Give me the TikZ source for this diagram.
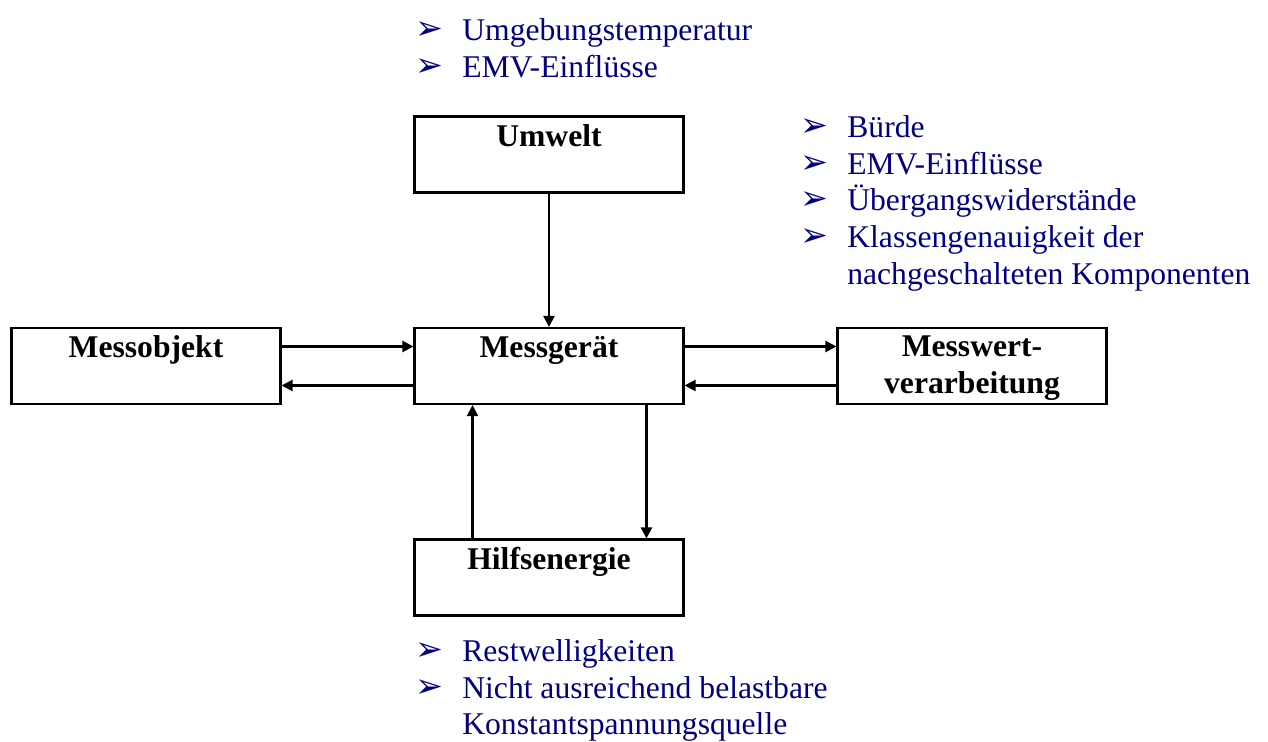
\documentclass[tikz,border=0pt]{standalone}
\usepackage{fontspec}
\setmainfont{Liberation Serif}
\newfontfamily\dingfont{DejaVu Sans}
\usepackage{xcolor}
\usetikzlibrary{positioning,arrows.meta}

\definecolor{listblue}{RGB}{0,0,128}
\newcommand{\arrbullet}{\makebox[0.94cm][l]{\smash{\raisebox{0.5pt}{\dingfont\bfseries\fontsize{19}{19}\selectfont ➢}}}}
\newcommand{\arrindent}{\makebox[0.94cm][l]{}}

\tikzset{
  block/.style={draw, line width=1.2pt, minimum width=5.38cm, minimum height=1.52cm, inner sep=0pt},
  blocktitle/.style={font=\fontsize{18}{21}\selectfont\bfseries, inner sep=0pt, anchor=base},
  flow/.style={line width=1.2pt, -{Triangle[length=0.22cm, width=0.22cm]}},
  notes/.style={text=listblue, font=\fontsize{18}{20.9}\selectfont, align=left, inner sep=0pt, anchor=north west}
}

\begin{document}
\begin{tikzpicture}[x=0.02cm, y=-0.02cm]
  \useasboundingbox (0,0) rectangle (1268,742);

  % Blocks
  \node[block] (umwelt) at (549,154.5) {};
  \node[block] (objekt) at (146,366) {};
  \node[block] (geraet) at (549,366) {};
  \node[block] (verarb) at (972,366) {};
  \node[block] (hilfs) at (549,577.5) {};

  % Block titles
  \node[blocktitle] (umwelt-t) at ([yshift=-0.62cm]umwelt.north) {Umwelt};
  \node[blocktitle] (objekt-t) at ([yshift=-0.62cm]objekt.north) {Messobjekt};
  \node[blocktitle] (geraet-t) at ([yshift=-0.62cm]geraet.north) {Messgerät};
  \node[blocktitle] (verarb-t1) at ([yshift=-0.6cm]verarb.north) {Messwert-};
  \node[blocktitle] (verarb-t2) at ([yshift=-0.74cm]verarb-t1.base) {verarbeitung};
  \node[blocktitle] (hilfs-t) at ([yshift=-0.62cm]hilfs.north) {Hilfsenergie};

  % Connections
  \draw[flow] (umwelt) -- (geraet);
  \draw[flow] ([yshift=0.39cm]objekt.east) -- ([yshift=0.39cm]geraet.west);
  \draw[flow] ([yshift=-0.39cm]geraet.west) -- ([yshift=-0.39cm]objekt.east);
  \draw[flow] ([yshift=0.39cm]geraet.east) -- ([yshift=0.39cm]verarb.west);
  \draw[flow] ([yshift=-0.39cm]verarb.west) -- ([yshift=-0.39cm]geraet.east);
  \draw[flow] ([xshift=-1.53cm]hilfs.north) -- ([xshift=-1.53cm]geraet.south);
  \draw[flow] ([xshift=1.95cm]geraet.south) -- ([xshift=1.95cm]hilfs.north);

  % Influences
  \node[notes] (umwelt-n) at (415,18) {\arrbullet Umgebungstemperatur\\
    \arrbullet EMV-Einflüsse};
  \node[notes] (verarb-n) at (800,115) {\arrbullet Bürde\\
    \arrbullet EMV-Einflüsse\\
    \arrbullet Übergangswiderstände\\
    \arrbullet Klassengenauigkeit der\\
    \arrindent nachgeschalteten Komponenten};
  \node[notes] (hilfs-n) at (415,639) {\arrbullet Restwelligkeiten\\
    \arrbullet Nicht ausreichend belastbare\\
    \arrindent Konstantspannungsquelle};
\end{tikzpicture}
\end{document}
